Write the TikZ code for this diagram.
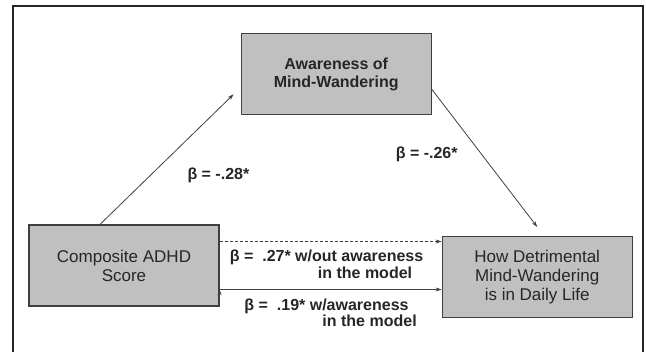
\documentclass[tikz,border=0pt]{standalone}
\usepackage{fontspec}
\setmainfont{Liberation Sans}
\usetikzlibrary{calc,arrows.meta,positioning}
\definecolor{boxgray}{HTML}{C0C0C0}
\definecolor{linegray}{HTML}{404040}

\begin{document}
\begin{tikzpicture}[x=1pt,y=-1pt,->,>={Stealth[length=6pt,width=4pt]},
  var/.style={draw=linegray,line width=1.2pt,fill=boxgray,minimum width=190pt,minimum height=81pt,align=center,text=black!85,font=\fontsize{17}{19}\selectfont},
  beta/.style={font=\bfseries\fontsize{16}{17}\selectfont,text=black!85}]

  \useasboundingbox (0,0) rectangle (646,352);
  \draw[-,line width=1.4pt,black!85] (13,352) -- (13,6) -- (643,6) -- (643,352);

  \node[var] (adhd) at (124,265.5) {Composite ADHD\\Score};
  \node[var] (detr) [right=222pt of adhd,yshift=-11.5pt] {How Detrimental\\Mind-Wandering\\is in Daily Life};
  \node[var,font=\bfseries\fontsize{16}{18}\selectfont] (aware) [above right=109pt and 21pt of adhd.north east] {Awareness of\\Mind-Wandering};

  \coordinate (dashL) at ([yshift=24pt]adhd.east);
  \coordinate (solidL) at ([yshift=-24pt]adhd.east);

  \path[draw=linegray,line width=0.8pt,every node/.style={beta}]
    ([xshift=-24pt]adhd.north) edge node[pos=0.38,right=33pt] {β = -.28*} ([xshift=-7pt,yshift=-20pt]aware.west)
    ([yshift=-15pt]aware.east) edge node[pos=0.47,left=20pt] {β = -.26*} ([yshift=9pt]detr.north)
    (dashL) edge[dash pattern=on 3pt off 2pt] node[below=5pt,xshift=-4pt,align=left] {β = \ .27* w/out awareness\\\hspace*{88pt}in the model} (dashL -| detr.west)
    (solidL) edge node[below=6pt,align=left,font=\bfseries\fontsize{16}{16}\selectfont] {β = \ .19* w/awareness\\\hspace*{78pt}in the model} (solidL -| detr.west);

\end{tikzpicture}
\end{document}
